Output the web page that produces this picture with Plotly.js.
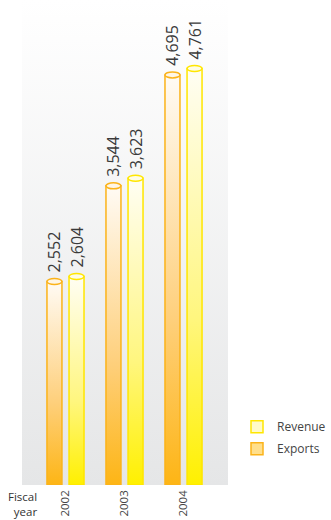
<!DOCTYPE html>
<html><head><meta charset="utf-8">
<script src="https://cdn.plot.ly/plotly-3.0.1.min.js"></script>
<style>html,body{margin:0;padding:0;background:#fff;overflow:hidden;}#chart{width:331px;height:520px;}</style>
</head><body><div id="chart"></div>
<script>
// ---- data ----
const years = ['2002', '2003', '2004'];
const exportsVals = [2552, 3544, 4695];
const revenueVals = [2604, 3623, 4761];
const exportsLabels = ['2,552', '3,544', '4,695'];
const revenueLabels = ['2,604', '3,623', '4,761'];

// ---- layout constants ----
const Y_MIN = 441, Y_MAX = 5472;
const X_MIN = -0.737, X_MAX = 2.754;
const BAR_W = 0.254;
const FONT = '"Open Sans", "DejaVu Sans", sans-serif';

const series = [
  {name: 'Exports', vals: exportsVals, labels: exportsLabels, off: -0.314, line: '#fbb31a', cap: '#fff6e6',
   grad: [[0, '#fdb515'], [0.4, '#fecf7a'], [1, '#fffbf5']], legendFill: '#ffdf8c', rank: 2},
  {name: 'Revenue', vals: revenueVals, labels: revenueLabels, off: 0.06, line: '#ffe600', cap: '#fffde4',
   grad: [[0, '#fff000'], [0.4, '#fff67e'], [1, '#fffef4']], legendFill: '#fffac8', rank: 1}
];
const idx = years.map((_, i) => i);

const traces = [];
// background gradient of plot area
traces.push({
  type: 'scatter', mode: 'lines', x: [X_MIN, X_MAX, X_MAX, X_MIN, X_MIN], y: [Y_MIN, Y_MIN, Y_MAX, Y_MAX, Y_MIN],
  fill: 'toself', fillgradient: {type: 'vertical', colorscale: [[0, '#e5e6e7'], [1, '#ffffff']], start: Y_MIN, stop: Y_MAX},
  line: {width: 0}, hoverinfo: 'skip', showlegend: false
});
// glass tubes
series.forEach(s => {
  traces.push({
    type: 'bar', x: idx, y: idx.map(() => Y_MAX - Y_MIN), base: Y_MIN, width: BAR_W, offset: s.off,
    marker: {color: 'rgba(255,255,255,0.25)', line: {color: 'rgba(0,0,0,0.06)', width: 2}},
    hoverinfo: 'skip', showlegend: false
  });
});
// real bars (legend + base)
series.forEach(s => {
  traces.push({
    type: 'bar', name: s.name, legendgroup: s.name, x: idx, y: s.vals.map(v => v - Y_MIN), base: Y_MIN,
    width: BAR_W, offset: s.off,
    marker: {color: s.legendFill, line: {color: s.line, width: 1.5}}, legendrank: s.rank, hoverinfo: 'skip'
  });
});
// gradient overlays
series.forEach(s => {
  s.vals.forEach((v, i) => {
    const l = i + s.off, r = l + BAR_W;
    traces.push({
      type: 'scatter', mode: 'lines', x: [l, r, r, l, l], y: [Y_MIN, Y_MIN, v, v, Y_MIN],
      fill: 'toself', fillgradient: {type: 'vertical', colorscale: s.grad, start: Y_MIN, stop: v},
      line: {color: s.line, width: 1.5}, hoverinfo: 'skip', showlegend: false
    });
  });
});

const shapes = [];
const annotations = [];
series.forEach(s => {
  s.vals.forEach((v, i) => {
    const l = i + s.off, r = l + BAR_W;
    shapes.push({type: 'circle', xref: 'x', yref: 'y', ysizemode: 'pixel', yanchor: v, y0: -3, y1: 3,
      x0: l, x1: r, fillcolor: s.cap, line: {color: s.line, width: 1.5}, layer: 'above'});
    annotations.push({x: (l + r) / 2, y: v, xref: 'x', yref: 'y', text: s.labels[i], showarrow: false,
      textangle: -90, xanchor: 'center', yanchor: 'bottom', yshift: 7,
      font: {family: FONT, size: 16, color: '#3a3a3a'}});
  });
});
annotations.push({xref: 'paper', yref: 'paper', x: 0.078, y: -0.0725, xanchor: 'right', yanchor: 'bottom',
  text: 'Fiscal<br>year', align: 'right', showarrow: false, borderpad: 0,
  font: {family: FONT, size: 11.5, color: '#333'}});

const layout = {
  width: 331, height: 520, margin: {l: 22, r: 103, t: 0, b: 35},
  paper_bgcolor: '#ffffff', plot_bgcolor: '#ffffff', barmode: 'overlay',
  xaxis: {range: [X_MIN, X_MAX], tickvals: idx, ticktext: years, tickangle: -90, showgrid: false, zeroline: false,
    showline: false, ticks: '', ticklabelstandoff: 2, tickfont: {family: FONT, size: 11.5, color: '#444'}, fixedrange: true},
  yaxis: {range: [Y_MIN, Y_MAX], visible: false, fixedrange: true},
  legend: {x: 1.044, y: 0.15, xanchor: 'left', yanchor: 'top', bgcolor: 'rgba(0,0,0,0)', tracegroupgap: 3,
    font: {family: FONT, size: 12, color: '#444'}},
  showlegend: true, shapes: shapes, annotations: annotations, hovermode: false
};
Plotly.newPlot('chart', traces, layout, {displayModeBar: false, staticPlot: true});
</script></body></html>
